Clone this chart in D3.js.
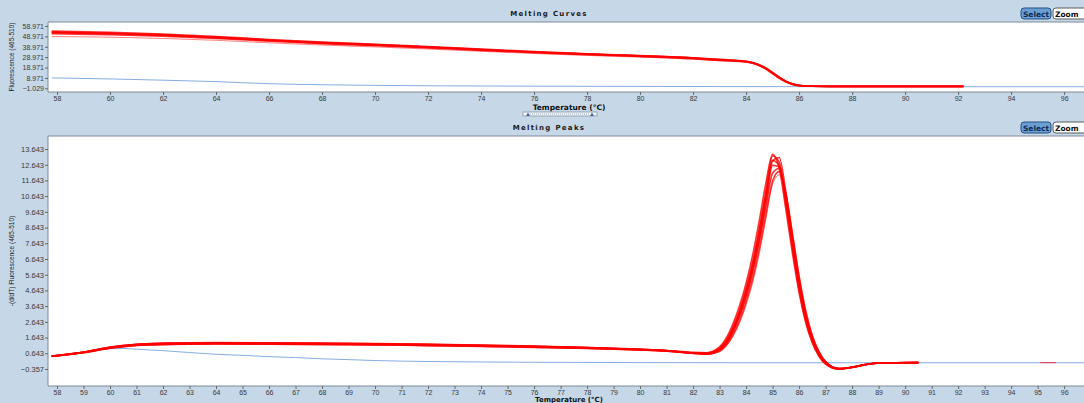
<!DOCTYPE html>
<html>
<head>
<meta charset="utf-8">
<script src="https://cdn.jsdelivr.net/npm/d3@7"></script>
<style>
  html, body { margin: 0; padding: 0; background: #c6d7e7; overflow: hidden; }
  svg { display: block; }
</style>
</head>
<body>
<svg id="chart" width="1084" height="403"></svg>
<script>
// ---- Melting curves (fluorescence vs temperature) ----
const curveTemps = [57.8, 60, 62, 64, 66, 68, 70, 72, 74, 76, 78, 80, 82, 83, 83.5, 84, 84.25, 84.5, 84.75, 85, 85.25, 85.5, 85.75, 86, 86.25, 86.5, 88, 90, 92.2];
const curveSampleA = [52.5, 51.5, 50.0, 47.8, 45.0, 42.5, 40.6, 38.4, 36.0, 33.7, 31.7, 30.0, 27.9, 26.3, 25.6, 24.6, 23.3, 21.0, 17.8, 13.6, 9.2, 5.5, 3.0, 1.7, 1.1, 0.9, 0.8, 0.8, 0.8];
const curveSampleB = [54.0, 52.8, 51.2, 48.9, 46.0, 43.4, 41.4, 39.1, 36.7, 34.3, 32.3, 30.5, 28.4, 26.8, 26.0, 25.0, 23.8, 21.6, 18.5, 14.2, 9.7, 5.8, 3.2, 1.8, 1.2, 0.9, 0.8, 0.8, 0.8];
const curveSampleC = [51.5, 50.6, 49.2, 47.0, 44.3, 41.9, 40.0, 37.9, 35.5, 33.3, 31.3, 29.6, 27.5, 25.9, 25.2, 24.3, 23.1, 20.9, 17.9, 13.9, 9.6, 5.9, 3.3, 1.8, 1.1, 0.9, 0.8, 0.8, 0.8];
const curveSampleD = [53.2, 52.1, 50.6, 48.3, 45.5, 43.0, 41.0, 38.8, 36.4, 34.0, 32.0, 30.3, 28.2, 26.6, 25.9, 24.9, 23.5, 21.0, 17.5, 13.0, 8.6, 5.0, 2.7, 1.5, 1.0, 0.9, 0.8, 0.8, 0.8];
const curveSampleE = [48.8, 48.2, 47.0, 45.2, 42.8, 40.6, 38.8, 36.8, 34.6, 32.5, 30.6, 29.0, 27.0, 25.5, 24.8, 23.9, 22.7, 20.6, 17.6, 13.6, 9.4, 5.7, 3.2, 1.8, 1.1, 0.9, 0.8, 0.8, 0.8];
const curveSampleF = [52.8, 51.9, 50.3, 48.0, 45.3, 42.8, 40.8, 38.6, 36.2, 33.9, 31.9, 30.2, 28.1, 26.5, 25.8, 24.8, 23.6, 21.4, 18.2, 13.9, 9.4, 5.6, 3.0, 1.7, 1.1, 0.9, 0.8, 0.8, 0.8];
const curveNtcTemps = [57.8, 60, 62, 64, 66, 68, 70, 72, 74, 76, 78, 80, 84, 88, 96.75];
const curveNtc = [9.0, 8.0, 6.8, 5.4, 3.4, 2.4, 1.8, 1.4, 1.2, 1.0, 0.9, 0.8, 0.6, 0.5, 0.5];
const curveYTicks = [-1.029, 8.971, 18.971, 28.971, 38.971, 48.971, 58.971];
const curveXTicks = [58, 60, 62, 64, 66, 68, 70, 72, 74, 76, 78, 80, 82, 84, 86, 88, 90, 92, 94, 96];

// ---- Melting peaks (-dF/dT vs temperature) ----
const peakTemps = [57.8, 59, 60, 61, 62, 64, 66, 68, 70, 72, 74, 76, 78, 80, 81, 82, 82.5, 83, 83.25, 83.5, 83.75, 84, 84.25, 84.5, 84.75, 85, 85.25, 85.5, 85.75, 86, 86.25, 86.5, 86.75, 87, 87.5, 88, 88.5, 89, 90.5];
const peakSampleA = [0.45, 0.70, 1.00, 1.18, 1.24, 1.28, 1.26, 1.24, 1.21, 1.17, 1.12, 1.06, 0.98, 0.88, 0.80, 0.66, 0.62, 0.88, 1.30, 2.05, 3.05, 4.35, 5.95, 7.95, 10.3, 12.6, 12.5, 10.4, 7.7, 5.1, 3.0, 1.55, 0.62, 0.05, -0.35, -0.25, -0.08, 0.02, 0.05];
const peakSampleB = [0.47, 0.72, 1.04, 1.22, 1.30, 1.33, 1.31, 1.29, 1.26, 1.22, 1.16, 1.10, 1.01, 0.90, 0.82, 0.68, 0.66, 0.98, 1.48, 2.30, 3.40, 4.80, 6.50, 8.60, 11.0, 13.2, 12.8, 10.2, 7.3, 4.7, 2.7, 1.35, 0.50, -0.02, -0.36, -0.24, -0.07, 0.02, 0.05];
const peakSampleC = [0.44, 0.68, 0.96, 1.14, 1.20, 1.24, 1.22, 1.20, 1.18, 1.13, 1.08, 1.02, 0.95, 0.85, 0.78, 0.64, 0.58, 0.78, 1.15, 1.80, 2.70, 3.90, 5.40, 7.30, 9.50, 11.6, 12.2, 10.8, 8.2, 5.5, 3.3, 1.75, 0.75, 0.12, -0.32, -0.26, -0.09, 0.02, 0.05];
const peakSampleD = [0.46, 0.71, 1.02, 1.20, 1.27, 1.30, 1.29, 1.27, 1.24, 1.20, 1.14, 1.08, 1.00, 0.89, 0.81, 0.67, 0.63, 0.90, 1.34, 2.10, 3.15, 4.50, 6.15, 8.20, 10.6, 12.9, 13.1, 10.9, 8.0, 5.3, 3.1, 1.6, 0.66, 0.07, -0.34, -0.25, -0.08, 0.02, 0.05];
const peakSampleE = [0.45, 0.69, 0.98, 1.15, 1.21, 1.25, 1.23, 1.21, 1.19, 1.14, 1.09, 1.03, 0.96, 0.86, 0.79, 0.65, 0.60, 0.84, 1.24, 1.95, 2.95, 4.20, 5.80, 7.75, 10.0, 12.1, 12.4, 10.6, 7.9, 5.2, 3.1, 1.6, 0.65, 0.08, -0.33, -0.25, -0.08, 0.02, 0.05];
const peakSampleF = [0.46, 0.72, 1.03, 1.21, 1.28, 1.31, 1.30, 1.28, 1.25, 1.21, 1.15, 1.09, 1.00, 0.89, 0.82, 0.70, 0.68, 1.05, 1.60, 2.50, 3.65, 5.10, 6.90, 9.10, 11.5, 13.3, 12.4, 9.8, 7.0, 4.5, 2.6, 1.3, 0.45, -0.05, -0.37, -0.24, -0.07, 0.02, 0.05];
const peakSampleG = [0.44, 0.67, 0.95, 1.12, 1.18, 1.22, 1.21, 1.19, 1.17, 1.12, 1.07, 1.01, 0.94, 0.84, 0.77, 0.63, 0.57, 0.74, 1.08, 1.70, 2.55, 3.70, 5.15, 7.00, 9.20, 11.4, 12.0, 10.9, 8.4, 5.7, 3.45, 1.85, 0.80, 0.15, -0.30, -0.27, -0.10, 0.01, 0.05];
const peakSampleH = [0.45, 0.70, 1.01, 1.19, 1.25, 1.29, 1.28, 1.25, 1.23, 1.18, 1.13, 1.07, 0.99, 0.88, 0.80, 0.66, 0.64, 0.94, 1.40, 2.20, 3.25, 4.60, 6.30, 8.40, 10.8, 12.9, 12.6, 10.3, 7.5, 4.9, 2.85, 1.45, 0.55, 0.00, -0.36, -0.25, -0.08, 0.02, 0.05];
const peakNtcTemps = [57.8, 59, 60, 60.5, 61, 62, 63, 64, 65, 66, 67, 68, 69, 70, 72, 74, 76, 80, 84, 88, 96.75];
const peakNtc = [0.45, 0.70, 0.93, 0.95, 0.90, 0.81, 0.69, 0.58, 0.51, 0.43, 0.37, 0.29, 0.24, 0.18, 0.12, 0.09, 0.07, 0.05, 0.04, 0.04, 0.04];
const peakStrayTemps = [95.1, 95.7];
const peakStray = [0.05, 0.05];
const peakYTicks = [-0.357, 0.643, 1.643, 2.643, 3.643, 4.643, 5.643, 6.643, 7.643, 8.643, 9.643, 10.643, 11.643, 12.643, 13.643];
const peakXTicks = [58, 59, 60, 61, 62, 63, 64, 65, 66, 67, 68, 69, 70, 71, 72, 73, 74, 75, 76, 77, 78, 79, 80, 81, 82, 83, 84, 85, 86, 87, 88, 89, 90, 91, 92, 93, 94, 95, 96];

const curveSamples = [curveSampleE, curveSampleC, curveSampleA, curveSampleF, curveSampleD, curveSampleB];
const peakSamples = [peakSampleG, peakSampleC, peakSampleE, peakSampleA, peakSampleH, peakSampleD, peakSampleB, peakSampleF];

const W = 1084, H = 403;
const svg = d3.select("#chart");
svg.append("rect").attr("width", W).attr("height", H).attr("fill", "#c6d7e7");

const tempDomain = [57.66, 96.75];
const redColor = "#ff0000";
const ntcColor = "#86aee0";

function zip(xs, ys) { return xs.map((t, i) => [t, ys[i]]); }

function panel(opts) {
  const { top, bottom, left, right, yDomain, yTicks, xTicks, title, yLabel, id, tickFont, xTitleY, xTitleFont } = opts;
  const x = d3.scaleLinear().domain(tempDomain).range([left, right]);
  const y = d3.scaleLinear().domain(yDomain).range([bottom, top]);
  const g = svg.append("g");

  g.append("rect").attr("x", left).attr("y", top).attr("width", right - left).attr("height", bottom - top)
    .attr("fill", "#ffffff");

  g.append("clipPath").attr("id", id).append("rect")
    .attr("x", left).attr("y", top).attr("width", right - left).attr("height", bottom - top);

  const line = d3.line().x(d => x(d[0])).y(d => y(d[1])).curve(d3.curveMonotoneX);
  const marks = g.append("g").attr("clip-path", `url(#${id})`);

  // frame
  g.append("path").attr("d", `M${right},${top}H${left}V${bottom}H${right}`)
    .attr("fill", "none").attr("stroke", "#7d8a97").attr("stroke-width", 1);

  // axes
  const xAxis = g.append("g").attr("transform", `translate(0,${bottom})`)
    .call(d3.axisBottom(x).tickValues(xTicks).tickSize(3).tickPadding(1).tickFormat(d3.format("d")));
  const yAxis = g.append("g").attr("transform", `translate(${left},0)`)
    .call(d3.axisLeft(y).tickValues(yTicks).tickSize(3).tickPadding(1).tickFormat(d3.format(".3f")));
  xAxis.select(".domain").remove();
  yAxis.select(".domain").remove();
  xAxis.selectAll("line").attr("stroke", "#666");
  yAxis.selectAll("line").attr("stroke", "#666");
  xAxis.selectAll("text").attr("fill", "#3a3a3a").style("font-family", "Liberation Sans, Arial, sans-serif")
    .style("font-size", "7px");
  yAxis.selectAll("text").attr("fill", "#3a3a3a").style("font-family", "Liberation Sans, Arial, sans-serif")
    .style("font-size", tickFont);

  // title
  g.append("text").attr("x", 549).attr("y", top - 6).attr("text-anchor", "middle")
    .style("font-family", "DejaVu Sans, Verdana, sans-serif").style("font-weight", "bold")
    .style("font-size", "7px").style("letter-spacing", "1.3px").attr("fill", "#1a1a1a").text(title);

  // x axis title
  g.append("text").attr("x", 569).attr("y", xTitleY).attr("text-anchor", "middle")
    .style("font-family", "DejaVu Sans, Verdana, sans-serif").style("font-weight", "bold")
    .style("font-size", xTitleFont).attr("fill", "#111").text("Temperature (°C)");

  // y axis title
  g.append("text").attr("transform", `translate(14,${(top + bottom) / 2}) rotate(-90)`)
    .attr("text-anchor", "middle")
    .style("font-family", "Liberation Sans, Arial, sans-serif").style("font-size", "6.5px")
    .attr("fill", "#222").text(yLabel);

  // Select / Zoom buttons
  const by = top - 14;
  const sel = g.append("g");
  sel.append("rect").attr("x", 1021).attr("y", by).attr("width", 30).attr("height", 11).attr("rx", 3)
    .attr("fill", "#6a9fd6").attr("stroke", "#27507f").attr("stroke-width", 1);
  sel.append("text").attr("x", 1036).attr("y", by + 8.5).attr("text-anchor", "middle")
    .style("font-family", "DejaVu Sans, Verdana, sans-serif").style("font-weight", "bold")
    .style("font-size", "7.5px").attr("fill", "#0f2a52").text("Select");
  const zm = g.append("g");
  zm.append("rect").attr("x", 1053).attr("y", by).attr("width", 36).attr("height", 11).attr("rx", 3)
    .attr("fill", "#ffffff").attr("stroke", "#5a5a5a").attr("stroke-width", 1);
  zm.append("text").attr("x", 1055).attr("y", by + 8.5)
    .style("font-family", "DejaVu Sans, Verdana, sans-serif").style("font-weight", "bold")
    .style("font-size", "7.5px").attr("fill", "#111").text("Zoom");

  return { x, y, line, marks, g };
}

// ---- top panel: melting curves ----
const pc = panel({
  id: "clip-curves", top: 22, bottom: 92, left: 48, right: 1084,
  yDomain: [-4.59, 62.82], yTicks: curveYTicks, xTicks: curveXTicks,
  title: "Melting Curves", yLabel: "Fluorescence (465-510)", tickFont: "7px",
  xTitleY: 110, xTitleFont: "7.5px"
});
pc.marks.append("path").datum(zip(curveNtcTemps, curveNtc)).attr("d", pc.line)
  .attr("fill", "none").attr("stroke", ntcColor).attr("stroke-width", 1);
curveSamples.forEach((s, i) => {
  pc.marks.append("path").datum(zip(curveTemps, s)).attr("d", pc.line)
    .attr("fill", "none").attr("stroke", redColor)
    .attr("stroke-width", i === 0 ? 0.9 : 1.6).attr("stroke-opacity", i === 0 ? 0.55 : 0.8);
});

// range slider under the top axis
const slider = svg.append("g");
slider.append("rect").attr("x", 523).attr("y", 112).attr("width", 74).attr("height", 4)
  .attr("fill", "#f2f5f9").attr("stroke", "#8a98a8").attr("stroke-width", 0.8);
slider.append("line").attr("x1", 530).attr("x2", 590).attr("y1", 114).attr("y2", 114)
  .attr("stroke", "#9aa6b4").attr("stroke-dasharray", "1,1");
[528, 592].forEach(cx => {
  slider.append("path").attr("d", `M${cx - 2},116 L${cx},112.5 L${cx + 2},116 Z`).attr("fill", "#4a64a8");
});

// ---- bottom panel: melting peaks ----
const pp = panel({
  id: "clip-peaks", top: 136, bottom: 386, left: 48, right: 1084,
  yDomain: [-1.439, 14.47], yTicks: peakYTicks, xTicks: peakXTicks,
  title: "Melting Peaks", yLabel: "-(d/dT) Fluorescence (465-510)", tickFont: "7.5px",
  xTitleY: 401.5, xTitleFont: "7px"
});
pp.marks.append("path").datum(zip(peakNtcTemps, peakNtc)).attr("d", pp.line)
  .attr("fill", "none").attr("stroke", ntcColor).attr("stroke-width", 1);
peakSamples.forEach((s, i) => {
  pp.marks.append("path").datum(zip(peakTemps, s)).attr("d", pp.line)
    .attr("fill", "none").attr("stroke", redColor)
    .attr("stroke-width", i === 0 ? 0.9 : 1.6).attr("stroke-opacity", i === 0 ? 0.6 : 0.8);
});
pp.marks.append("path").datum(zip(peakStrayTemps, peakStray)).attr("d", pp.line)
  .attr("fill", "none").attr("stroke", "#e05060").attr("stroke-width", 1.2);
</script>
</body>
</html>
